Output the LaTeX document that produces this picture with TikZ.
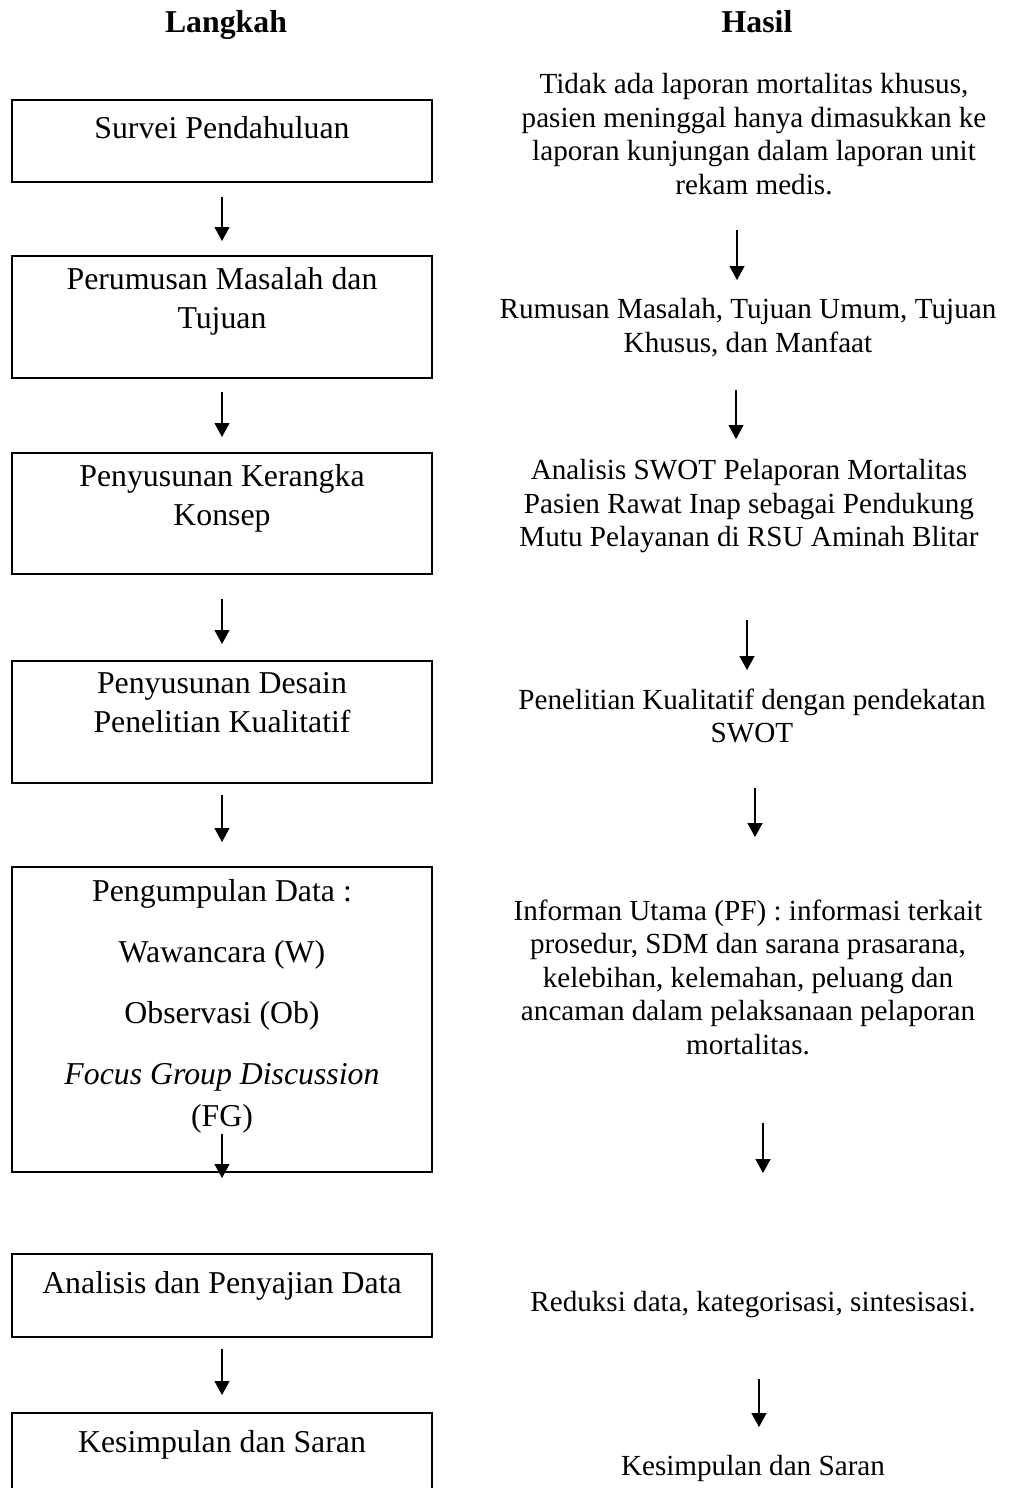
\documentclass[tikz,border=0pt]{standalone}
\usepackage{fontspec}
\setmainfont{Liberation Serif}
\usetikzlibrary{arrows.meta, positioning}

\newcommand{\hurufkiri}{\fontsize{31.8}{39}\selectfont}
\newcommand{\hurufkanan}{\fontsize{29.15}{33.5}\selectfont}

\begin{document}
\begin{tikzpicture}[x=1pt, y=-1pt,
        kotak/.style={draw, line width=1.8pt, minimum width=420pt, anchor=north, inner sep=0pt},
        teksL/.style={font=\hurufkiri, align=center, anchor=north, inner sep=0pt, yshift=27.3pt,
            execute at begin node=\strut, execute at end node=\strut},
        teksR/.style={font=\hurufkanan, align=center, anchor=north, inner sep=0pt, yshift=23.45pt,
            execute at begin node=\strut, execute at end node=\strut},
        judul/.style={font=\hurufkiri\bfseries, anchor=base, inner sep=0pt},
        panah/.style={line width=1.1pt, -{Triangle[length=14pt, width=15pt]}}]

    \useasboundingbox (0,0) rectangle (1011,1488);
    \clip (0,0) rectangle (1011,1488);

    % judul kolom
    \node[judul] (langkah) at (226,33) {Langkah};
    \node[judul] (hasil) at (757,33) {Hasil};

    % kolom langkah
    \node[kotak, minimum height=82pt] (survei) at (222,99) {};
    \node[teksL] (tsurvei) at (222,138) {Survei Pendahuluan};
    \node[kotak, minimum height=122pt] (perumusan) at (222,255) {};
    \node[teksL] (tperumusan) at (222,295) {Perumusan Masalah dan\\Tujuan};
    \node[kotak, minimum height=121pt] (kerangka) at (222,452) {};
    \node[teksL] (tkerangka) at (222,492) {Penyusunan Kerangka\\Konsep};
    \node[kotak, minimum height=122pt] (desain) at (222,660) {};
    \node[teksL] (tdesain) at (222,700) {Penyusunan Desain\\Penelitian Kualitatif};
    \node[kotak, minimum height=305pt] (pengumpulan) at (222,866) {};
    \node[teksL] (tpengumpulan) at (222,907) {Pengumpulan Data :\\[22pt]Wawancara (W)\\[22pt]Observasi (Ob)\\[22pt]\textit{Focus Group Discussion}\\[3pt](FG)};
    \node[kotak, minimum height=83pt] (analisis) at (222,1253) {};
    \node[teksL] (tanalisis) at (222,1293) {Analisis dan Penyajian Data};
    \node[kotak, minimum height=95pt] (kesimpulan) at (222,1412) {};
    \node[teksL] (tkesimpulan) at (222,1452) {Kesimpulan dan Saran};

    \draw[panah, shorten <=14pt, shorten >=14pt] (survei.south) -- (perumusan.north);
    \draw[panah, shorten <=13pt, shorten >=15pt] (perumusan.south) -- (kerangka.north);
    \draw[panah, shorten <=24pt, shorten >=16pt] (kerangka.south) -- (desain.north);
    \draw[panah, shorten <=11pt, shorten >=24pt] (desain.south) -- (pengumpulan.north);
    \draw[panah] ([yshift=39pt]pengumpulan.south) -- ([yshift=75pt]analisis.north);
    \draw[panah, shorten <=11pt, shorten >=17pt] (analisis.south) -- (kesimpulan.north);

    % kolom hasil
    \node[teksR] (tidak) at (754,97) {Tidak ada laporan mortalitas khusus,\\pasien meninggal hanya dimasukkan ke\\laporan kunjungan dalam laporan unit\\rekam medis.};
    \node[teksR] (rumusan) at (748,322) {Rumusan Masalah, Tujuan Umum, Tujuan\\Khusus, dan Manfaat};
    \node[teksR] (swot) at (749,483) {Analisis SWOT Pelaporan Mortalitas\\Pasien Rawat Inap sebagai Pendukung\\Mutu Pelayanan di RSU Aminah Blitar};
    \node[teksR] (kualitatif) at (752,712) {Penelitian Kualitatif dengan pendekatan\\SWOT};
    \node[teksR] (informan) at (748,923) {Informan Utama (PF) : informasi terkait\\prosedur, SDM dan sarana prasarana,\\kelebihan, kelemahan, peluang dan\\ancaman dalam pelaksanaan pelaporan\\mortalitas.};
    \node[teksR] (reduksi) at (753,1311) {Reduksi data, kategorisasi, sintesisasi.};
    \node[teksR] (saran) at (753,1475) {Kesimpulan dan Saran};

    \draw[panah, shorten <=25.5pt, shorten >=18.5pt] ([xshift=-17pt]tidak.south) -- ([xshift=-17pt]tidak.south |- rumusan.north);
    \draw[panah, shorten <=27.5pt, shorten >=20.5pt] ([xshift=-12pt]rumusan.south) -- ([xshift=-12pt]rumusan.south |- swot.north);
    \draw[panah, shorten <=63pt, shorten >=18.5pt] ([xshift=-2pt]swot.south) -- ([xshift=-2pt]swot.south |- kualitatif.north);
    \draw[panah, shorten <=34.5pt, shorten >=62.5pt] ([xshift=3pt]kualitatif.south) -- ([xshift=3pt]kualitatif.south |- informan.north);
    \draw[panah, shorten <=58pt, shorten >=114.5pt] ([xshift=15pt]informan.south) -- ([xshift=15pt]informan.south |- reduksi.north);
    \draw[panah, shorten <=58pt, shorten >=24.5pt] ([xshift=6pt]reduksi.south) -- ([xshift=6pt]reduksi.south |- saran.north);
\end{tikzpicture}
\end{document}
